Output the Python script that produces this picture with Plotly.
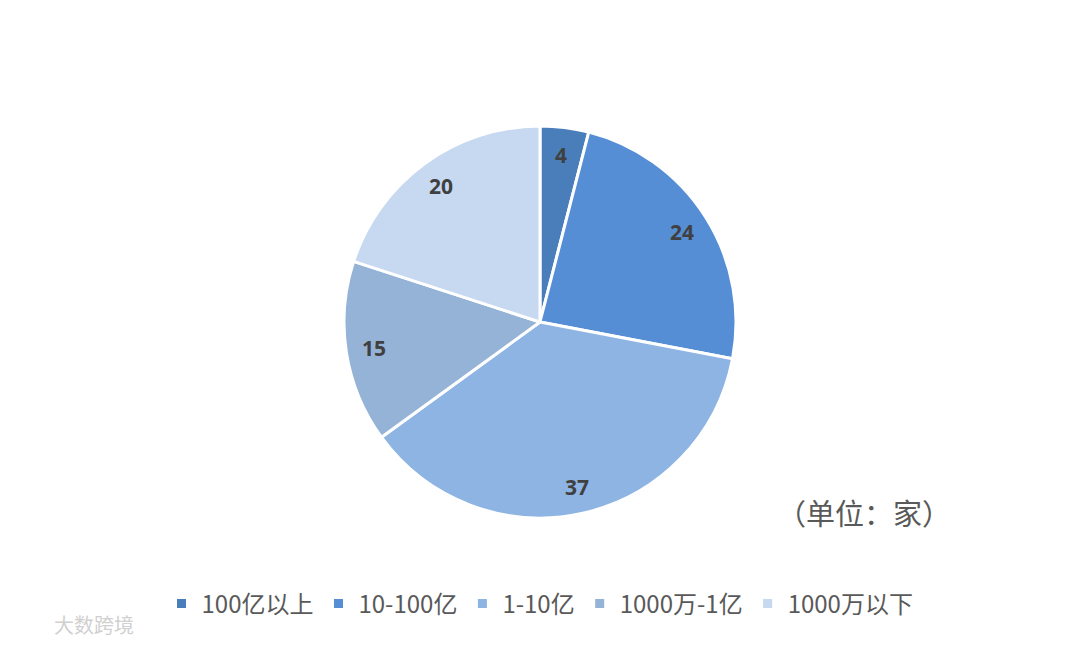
import math
import plotly.graph_objects as go

categories = ["100亿以上", "10-100亿", "1-10亿", "1000万-1亿", "1000万以下"]
values = [4, 24, 37, 15, 20]
colors = ["#4a7ebb", "#558ed5", "#8eb4e3", "#95b3d7", "#c6d9f1"]

W, H = 1080, 646
cx, cy, R = 540, 322, 196  # pixel layout of the pie

fig = go.Figure(go.Pie(
    labels=categories,
    values=values,
    sort=False,
    direction="clockwise",
    rotation=0,
    marker=dict(colors=colors, line=dict(color="white", width=3)),
    textinfo="none",
    domain=dict(x=[(cx - R) / W, (cx + R) / W], y=[(H - cy - R) / H, (H - cy + R) / H]),
    hoverinfo="label+value",
))

# value labels placed along each slice's mid-angle, derived from the data
total = sum(values)
annotations = []
cum = 0
for v in values:
    mid = (cum + v / 2) / total * 2 * math.pi
    cum += v
    px = cx + 0.86 * R * math.sin(mid)
    py = cy - 0.86 * R * math.cos(mid)
    annotations.append(dict(
        text=str(v), x=px / W, y=(H - py) / H, xref="paper", yref="paper",
        showarrow=False, xanchor="center", yanchor="middle",
        font=dict(family="Open Sans", size=21, color="#404040", weight="bold"),
    ))

annotations.append(dict(
    text="（单位：家）", x=864 / W, y=(H - 512) / H, xref="paper", yref="paper",
    showarrow=False, xanchor="center", yanchor="middle",
    font=dict(family="Noto Sans CJK SC", size=29, color="#595959")))
annotations.append(dict(
    text="大数跨境", x=52 / W, y=(H - 624) / H, xref="paper", yref="paper",
    showarrow=False, xanchor="left", yanchor="middle",
    font=dict(family="Noto Sans CJK SC", size=20, color="#d0d0d0")))

fig.update_layout(
    width=W, height=H,
    margin=dict(l=0, r=0, t=0, b=0),
    paper_bgcolor="white",
    plot_bgcolor="white",
    legend=dict(
        orientation="h",
        x=0.5, xanchor="center",
        y=(H - 604) / H, yanchor="middle",
        font=dict(family="Noto Sans CJK SC", size=24, color="#595959"),
        itemwidth=30,
        traceorder="normal",
    ),
    annotations=annotations,
)

fig.write_html("out.html", config={"displayModeBar": False},
               post_script="document.body.style.margin='0';")
